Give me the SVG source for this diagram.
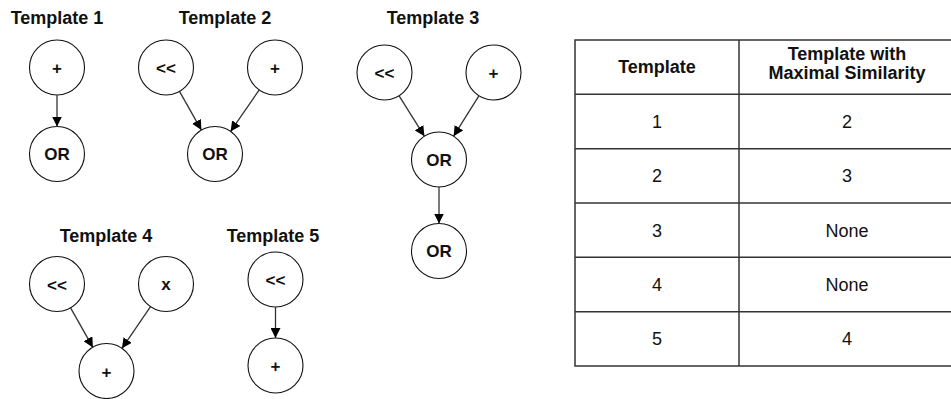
<svg xmlns="http://www.w3.org/2000/svg" width="951" height="399" viewBox="0 0 951 399">
<defs>
<marker id="ah" viewBox="0 0 10 10" refX="10" refY="5" markerWidth="10" markerHeight="10" markerUnits="userSpaceOnUse" orient="auto">
<path d="M0,0 L10,5 L0,10 Z" fill="#000"/>
</marker>
</defs>
<style>
.title{font-family:"Liberation Sans",Arial,sans-serif;font-weight:bold;font-size:18px;text-anchor:middle;fill:#111}
.node circle{fill:#fff;stroke:#111;stroke-width:1.1}
.node text{font-family:"Liberation Sans",Arial,sans-serif;font-weight:bold;font-size:17px;text-anchor:middle;fill:#111}
.edge{fill:none;stroke:#333;stroke-width:1.3;marker-end:url(#ah)}
.tl{stroke:#333;stroke-width:1.5;fill:none}
.th{font-family:"Liberation Sans",Arial,sans-serif;font-weight:bold;font-size:18px;text-anchor:middle;fill:#111}
.td{font-family:"Liberation Sans",Arial,sans-serif;font-size:18px;text-anchor:middle;fill:#111}
</style>
<rect width="951" height="399" fill="#fff"/>
<g id="titles">
<text class="title" x="57" y="24">Template 1</text>
<text class="title" x="225" y="24">Template 2</text>
<text class="title" x="433" y="24">Template 3</text>
<text class="title" x="106" y="242">Template 4</text>
<text class="title" x="273" y="242">Template 5</text>
</g>
<g id="t1_plus" class="node"><circle cx="57" cy="67.5" r="27.5"/><text x="57" y="74">+</text></g>
<g id="t1_or" class="node"><circle cx="57" cy="154" r="27.5"/><text x="57" y="160">OR</text></g>
<g id="t2_shl" class="node"><circle cx="166" cy="67.5" r="27.5"/><text x="166" y="74">&lt;&lt;</text></g>
<g id="t2_plus" class="node"><circle cx="275" cy="67.5" r="27.5"/><text x="275" y="74">+</text></g>
<g id="t2_or" class="node"><circle cx="215" cy="154" r="27.5"/><text x="215" y="160">OR</text></g>
<g id="t3_shl" class="node"><circle cx="384.5" cy="72.5" r="27.5"/><text x="384.5" y="79">&lt;&lt;</text></g>
<g id="t3_plus" class="node"><circle cx="493.5" cy="72.5" r="27.5"/><text x="493.5" y="79">+</text></g>
<g id="t3_or1" class="node"><circle cx="439" cy="159.5" r="27.5"/><text x="439" y="165.5">OR</text></g>
<g id="t3_or2" class="node"><circle cx="439" cy="251" r="27.5"/><text x="439" y="257">OR</text></g>
<g id="t4_shl" class="node"><circle cx="57" cy="284" r="27.5"/><text x="57" y="290.5">&lt;&lt;</text></g>
<g id="t4_x" class="node"><circle cx="166" cy="284" r="27.5"/><text x="166" y="290">x</text></g>
<g id="t4_plus" class="node"><circle cx="106.5" cy="371" r="27.5"/><text x="106.5" y="377.5">+</text></g>
<g id="t5_shl" class="node"><circle cx="275.5" cy="279.5" r="27.5"/><text x="275.5" y="286">&lt;&lt;</text></g>
<g id="t5_plus" class="node"><circle cx="275.5" cy="365.5" r="27.5"/><text x="275.5" y="372">+</text></g>
<g id="connectors">
<path class="edge" d="M57,95 L57,126.5"/>
<path class="edge" d="M179.5,91.4 L201.4,130.1"/>
<path class="edge" d="M259.4,89.6 L230.6,131.4"/>
<path class="edge" d="M399.1,95.8 L424.4,136.2"/>
<path class="edge" d="M478.9,95.8 L453.6,136.2"/>
<path class="edge" d="M439,187 L439,223.5"/>
<path class="edge" d="M70.6,307.9 L92.9,347.4"/>
<path class="edge" d="M150.5,306.7 L122,348.3"/>
<path class="edge" d="M275.5,307 L275.5,338"/>
</g>
<g id="table">
<rect class="tl" x="575" y="40" width="380" height="326"/>
<line class="tl" x1="739" y1="40" x2="739" y2="366"/>
<line class="tl" x1="575" y1="94.3" x2="955" y2="94.3"/>
<line class="tl" x1="575" y1="148.7" x2="955" y2="148.7"/>
<line class="tl" x1="575" y1="203" x2="955" y2="203"/>
<line class="tl" x1="575" y1="257.3" x2="955" y2="257.3"/>
<line class="tl" x1="575" y1="311.7" x2="955" y2="311.7"/>
<text class="th" x="657" y="72.5">Template</text>
<text class="th" x="847" y="60">Template with</text>
<text class="th" x="847" y="79">Maximal Similarity</text>
<text class="td" x="657" y="128">1</text><text class="td" x="847" y="128">2</text>
<text class="td" x="657" y="182.3">2</text><text class="td" x="847" y="182.3">3</text>
<text class="td" x="657" y="236.7">3</text><text class="td" x="847" y="236.7">None</text>
<text class="td" x="657" y="291">4</text><text class="td" x="847" y="291">None</text>
<text class="td" x="657" y="345.4">5</text><text class="td" x="847" y="345.4">4</text>
</g>
</svg>
